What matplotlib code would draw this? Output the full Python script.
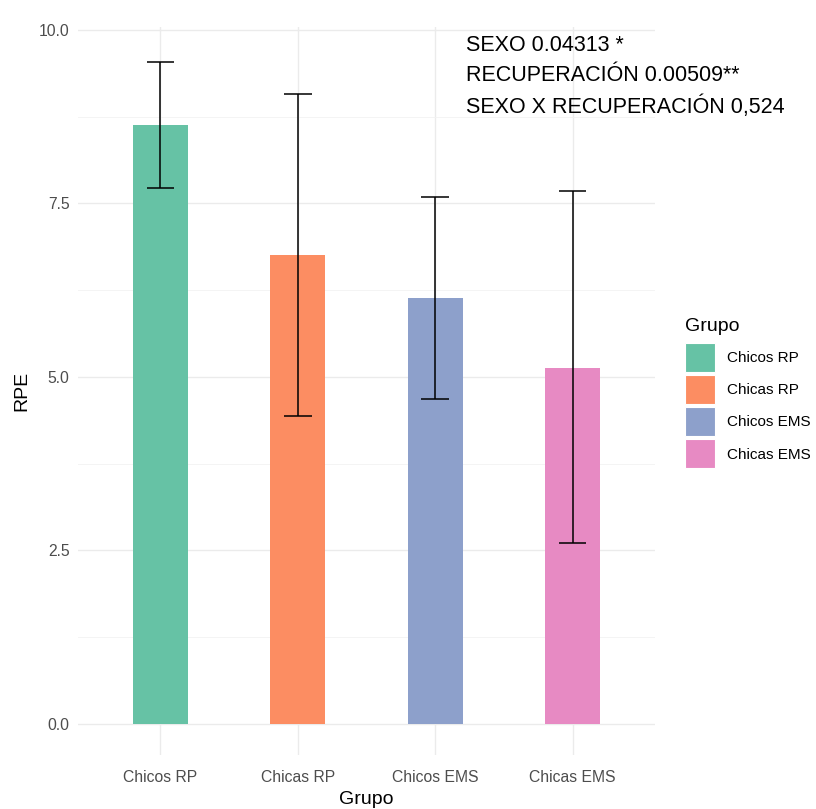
import matplotlib.pyplot as plt
from matplotlib.patches import Patch

grupos = ["Chicos RP", "Chicas RP", "Chicos EMS", "Chicas EMS"]
rpe = [8.63, 6.75, 6.13, 5.13]
err_low = [7.72, 4.44, 4.68, 2.60]
err_high = [9.54, 9.08, 7.59, 7.67]
colores = ["#66C2A5", "#FC8D62", "#8DA0CB", "#E78AC3"]
yticks = [0.0, 2.5, 5.0, 7.5, 10.0]
anot = "SEXO 0.04313 *\nRECUPERACIÓN 0.00509**\nSEXO X RECUPERACIÓN 0,524"

plt.rcParams["font.family"] = ["Liberation Sans", "DejaVu Sans"]

fig = plt.figure(figsize=(8.16, 8.09), dpi=100)
ax = fig.add_axes([78/816, 1-755/809, (655-78)/816, (755-27)/809])

x = list(range(1, len(grupos)+1))
ax.bar(x, rpe, width=0.4, color=colores, zorder=2)
ax.vlines(x, err_low, err_high, color="black", linewidth=1.1, zorder=3)
ax.hlines(err_low, [i-0.1 for i in x], [i+0.1 for i in x], color="black", linewidth=1.1, zorder=3)
ax.hlines(err_high, [i-0.1 for i in x], [i+0.1 for i in x], color="black", linewidth=1.1, zorder=3)

ax.set_xlim(0.4, 4.6)
ax.set_ylim(-0.45, 10.04)
ax.set_xticks(x)
ax.set_xticklabels(grupos)
ax.set_yticks(yticks)
ax.set_yticklabels(["%.1f" % v for v in yticks])
ax.set_yticks([1.25, 3.75, 6.25, 8.75], minor=True)
ax.grid(True, which="major", color="#EBEBEB", linewidth=1.0, zorder=0)
ax.grid(True, which="minor", axis="y", color="#F2F2F2", linewidth=0.6, zorder=0)
ax.set_axisbelow(True)
for s in ax.spines.values():
    s.set_visible(False)
ax.tick_params(axis="both", which="both", length=0, labelsize=11.3, labelcolor="#4D4D4D")
ax.tick_params(axis="x", pad=11)
ax.tick_params(axis="y", pad=6)
ax.set_xlabel("Grupo", fontsize=14, labelpad=4)
ax.set_ylabel("RPE", fontsize=14, labelpad=6)

# leyenda
handles = [Patch(facecolor=c, edgecolor="white", linewidth=0.8) for c in colores]
leg = fig.legend(handles, grupos, loc="upper left",
                 bbox_to_anchor=(685/816, 1-343/809), frameon=False,
                 fontsize=11, handlelength=1.95,
                 handleheight=2.55, labelspacing=0.2, handletextpad=0.8,
                 borderpad=0, borderaxespad=0)
fig.text(685/816, 1-327/809, "Grupo", fontsize=14, va="center", ha="left")

fig.text(466/816, 1-35/809, anot, fontsize=15.5, va="top", ha="left", linespacing=1.55)

fig.savefig("out.png", dpi=100)
